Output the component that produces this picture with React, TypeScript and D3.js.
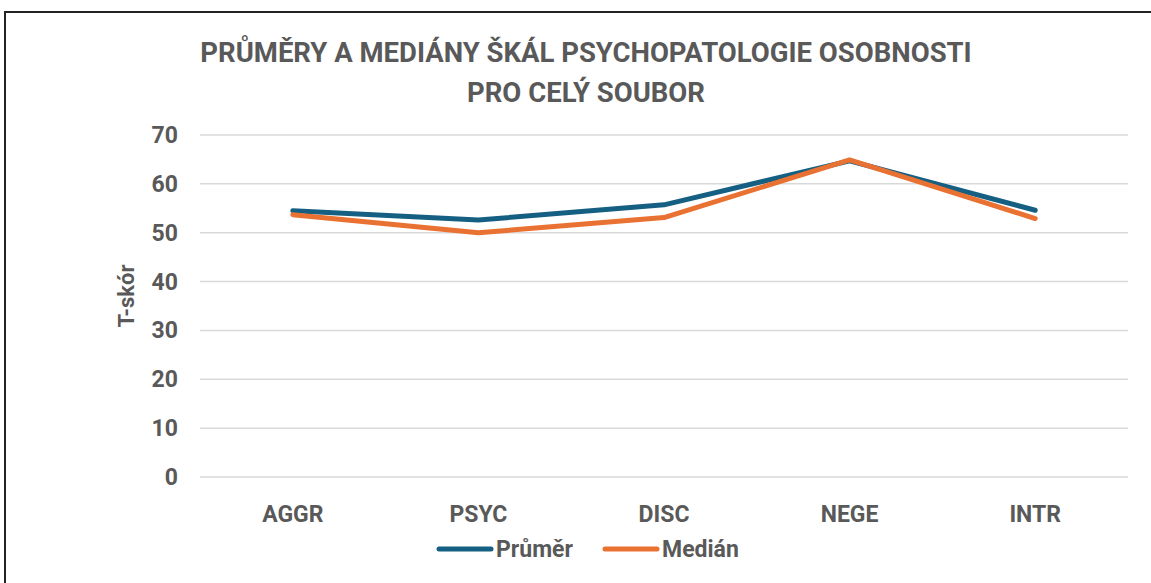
import React from 'react'
import * as d3 from 'd3'

const categories = ['AGGR', 'PSYC', 'DISC', 'NEGE', 'INTR']
const prumer = [54.5, 52.6, 55.7, 64.7, 54.6]
const median = [53.7, 50.0, 53.1, 64.9, 52.9]
const yTicks = [0, 10, 20, 30, 40, 50, 60, 70]
const seriesNames = ['Průměr', 'Medián']
const colors = ['#156082', '#E97132']

const App = () => {
    const ref = React.useRef<SVGSVGElement>(null)

    React.useEffect(() => {
        const width = 1151
        const height = 583
        const svg = d3.select(ref.current)
        svg.selectAll('*').remove()

        const font = 'Roboto, "Liberation Sans", Arial, sans-serif'
        const gray = '#595959'

        // chart frame
        svg.append('rect')
            .attr('x', 5)
            .attr('y', 12)
            .attr('width', width + 10)
            .attr('height', height + 10)
            .attr('fill', 'white')
            .attr('stroke', '#222')
            .attr('stroke-width', 2)

        const margin = { top: 135, left: 200, right: 23, bottom: 106 }
        const innerWidth = width - margin.left - margin.right
        const innerHeight = height - margin.top - margin.bottom

        const g = svg.append('g').attr('transform', 'translate(' + margin.left + ',' + margin.top + ')')

        const xScale = d3.scaleBand().domain(categories).range([0, innerWidth])
        const yScale = d3.scaleLinear().domain([0, 70]).range([innerHeight, 0])

        // gridlines
        g.selectAll('.grid')
            .data(yTicks)
            .enter()
            .append('line')
            .attr('x1', 0)
            .attr('x2', innerWidth)
            .attr('y1', (d) => yScale(d))
            .attr('y2', (d) => yScale(d))
            .attr('stroke', '#D9D9D9')
            .attr('stroke-width', 1.5)

        // y labels
        g.selectAll('.y-label')
            .data(yTicks)
            .enter()
            .append('text')
            .attr('x', -22)
            .attr('y', (d) => yScale(d))
            .attr('dy', '0.35em')
            .attr('text-anchor', 'end')
            .attr('font-family', font)
            .attr('font-weight', 'bold')
            .attr('font-size', 23)
            .attr('fill', gray)
            .text((d) => d)

        // x labels
        g.selectAll('.x-label')
            .data(categories)
            .enter()
            .append('text')
            .attr('x', (d) => xScale(d)! + xScale.bandwidth() / 2)
            .attr('y', innerHeight + 45)
            .attr('text-anchor', 'middle')
            .attr('font-family', font)
            .attr('font-weight', 'bold')
            .attr('font-size', 23)
            .attr('fill', gray)
            .text((d) => d)

        // lines
        const line = d3
            .line<number>()
            .x((d, i) => xScale(categories[i])! + xScale.bandwidth() / 2)
            .y((d) => yScale(d))

        ;[prumer, median].forEach((s, i) => {
            g.append('path')
                .datum(s)
                .attr('d', line)
                .attr('fill', 'none')
                .attr('stroke', colors[i])
                .attr('stroke-width', 5)
                .attr('stroke-linecap', 'round')
                .attr('stroke-linejoin', 'round')
        })

        // y axis title
        svg.append('text')
            .attr('transform', 'translate(134,' + (margin.top + innerHeight / 2 - 10) + ') rotate(-90)')
            .attr('text-anchor', 'middle')
            .attr('font-family', font)
            .attr('font-weight', 'bold')
            .attr('font-size', 22)
            .attr('fill', gray)
            .text('T-skór')

        // title
        const title = ['PRŮMĚRY A MEDIÁNY ŠKÁL PSYCHOPATOLOGIE OSOBNOSTI', 'PRO CELÝ SOUBOR']
        title.forEach((t, i) => {
            svg.append('text')
                .attr('x', 586)
                .attr('y', 62 + i * 40)
                .attr('text-anchor', 'middle')
                .attr('font-family', font)
                .attr('font-weight', 'bold')
                .attr('font-size', 27.5)
                .attr('fill', gray)
                .text(t)
        })

        // legend
        const legendX = [437, 603]
        seriesNames.forEach((name, i) => {
            const lg = svg.append('g').attr('transform', 'translate(' + legendX[i] + ',549)')
            lg.append('line')
                .attr('x1', 2)
                .attr('x2', 54)
                .attr('y1', 0)
                .attr('y2', 0)
                .attr('stroke', colors[i])
                .attr('stroke-width', 5)
                .attr('stroke-linecap', 'round')
            lg.append('text')
                .attr('x', 59)
                .attr('y', 0)
                .attr('dy', '0.35em')
                .attr('font-family', font)
                .attr('font-weight', 'bold')
                .attr('font-size', 23)
                .attr('fill', gray)
                .text(name)
        })
    }, [])

    return (
        <svg
            ref={ref}
            width={1151}
            height={583}
            style={{ position: 'absolute', left: 0, top: 0, overflow: 'hidden' }}
        ></svg>
    )
}

export default App
